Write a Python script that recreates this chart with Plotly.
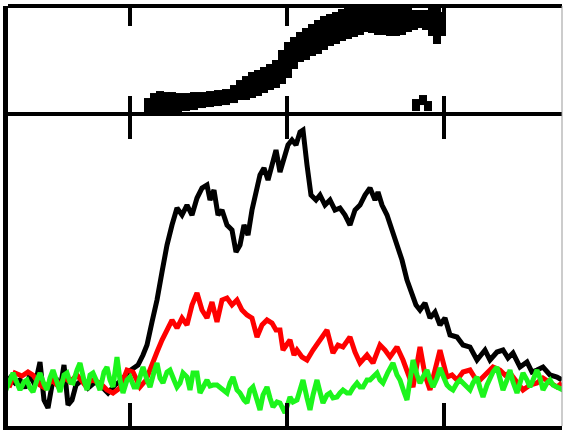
import plotly.graph_objects as go

# ---- bottom panel: three traces ----
black_x = [5,10,15,20,25,30,35,40,44,48,52,56,60,64,68,72,76,82,88,95,102,108,115,122,128,133,138,143,147,152,157,162,167,172,177,182,187,192,197,202,207,210,214,218,222,227,232,236,240,244,248,252,256,260,264,268,272,276,280,284,288,292,296,300,303,307,311,316,320,325,330,335,340,345,350,355,360,365,370,375,378,382,387,392,397,402,407,412,416,420,425,430,435,440,445,450,457,463,470,477,485,490,497,503,508,513,520,527,532,537,543,550,557,562]
black_y = [43,50,45,48,40,53,43,66,28,20,43,50,38,63,23,28,43,48,40,46,41,35,43,48,56,60,63,73,83,106,128,156,183,203,220,213,223,213,230,240,243,228,238,213,218,203,198,176,183,203,193,218,238,253,260,248,263,278,256,268,283,288,283,296,298,263,233,228,233,223,228,218,220,213,203,218,223,233,240,228,236,223,213,198,183,168,148,133,123,118,125,110,116,103,110,93,91,83,81,68,78,68,76,78,70,75,61,66,56,58,61,53,51,48]

red_x = [5,10,15,22,28,33,40,45,52,58,65,70,77,85,92,100,107,113,120,127,133,140,146,152,157,162,167,172,177,182,187,192,197,202,207,212,217,222,227,232,237,242,247,252,257,262,267,272,276,280,283,287,290,294,297,302,307,313,320,327,333,338,343,350,355,360,367,373,380,385,390,397,403,408,413,420,425,430,435,440,447,452,457,463,470,475,480,487,493,500,505,510,517,523,530,537,543,550,557,562]
red_y = [45,43,55,52,56,53,43,40,48,42,50,46,53,43,48,45,38,35,40,58,56,41,48,65,76,88,98,108,100,110,103,123,135,118,110,126,106,128,130,123,128,118,113,110,91,103,108,105,98,98,78,83,88,73,78,71,68,78,88,98,75,83,81,91,76,65,73,65,83,78,71,81,68,53,41,81,53,38,58,78,51,53,48,56,58,50,48,56,61,58,53,55,46,38,43,45,50,45,41,45]

green_x = [3,8,13,17,20,24,27,30,33,37,40,44,47,50,53,57,60,64,67,70,73,77,80,84,87,90,93,97,100,104,107,110,113,117,120,123,127,130,134,137,140,143,147,150,154,157,160,163,167,170,174,177,180,183,187,190,193,197,200,204,207,210,213,217,220,224,227,230,233,237,240,244,247,250,253,257,260,263,267,270,273,277,280,285,290,293,297,300,303,307,310,313,317,320,323,327,330,333,337,340,343,347,350,353,357,360,363,367,370,373,377,380,383,388,393,397,400,404,407,410,413,417,420,423,427,430,433,437,440,444,447,450,453,457,460,465,470,473,477,480,483,487,490,493,497,500,503,507,510,513,517,520,523,527,530,533,537,540,543,547,550,553,557,560,563]
green_y = [31,43,55,45,38,46,48,40,36,48,55,44,38,50,58,46,36,53,55,46,45,58,65,48,38,53,55,46,38,56,61,48,41,71,48,35,48,51,41,41,53,61,48,41,56,65,50,45,56,58,48,41,45,55,51,38,55,55,35,43,48,42,43,43,41,38,35,45,51,38,35,28,25,38,41,28,18,33,41,30,21,26,25,15,31,26,28,38,48,30,18,33,48,36,25,33,35,30,31,35,38,35,35,40,45,41,41,48,48,51,55,48,45,56,65,53,48,36,28,48,68,53,45,51,58,48,41,50,60,50,43,40,38,45,48,43,38,45,51,40,31,43,51,56,61,48,38,48,58,46,35,45,55,48,41,48,58,50,38,45,48,43,41,40,38]

# ---- top panel: points with vertical error bars ----
top_x = [148,154,160,166,172,178,186,194,202,210,218,226,234,240,246,252,258,264,270,276,282,288,294,300,306,312,318,324,330,336,342,348,354,360,366,372,378,384,390,396,402,408,414,420,426,432,437,442,416,423,428]
top_y = [6,9,10,10,11,11,12,13,14,15,16,17,20,24,26,29,31,34,37,40,47,54,61,67,70,74,77,81,84,86,89,91,92,94,96,95,94,94,93,93,93,94,94,95,94,92,88,90,9,14,8]
top_err = [10,12,13,12,11,10,9,9,8,8,8,8,9,10,12,13,13,13,13,14,17,18,16,15,16,16,17,17,16,16,16,16,15,15,14,14,15,15,15,15,14,12,10,9,10,14,18,12,6,5,5]

tick_vals = [130, 287, 444]

fig = go.Figure()
fig.add_trace(go.Scatter(x=black_x, y=black_y, mode="lines",
                         line=dict(color="black", width=5), xaxis="x", yaxis="y"))
fig.add_trace(go.Scatter(x=red_x, y=red_y, mode="lines",
                         line=dict(color="#ff0000", width=5), xaxis="x", yaxis="y"))
fig.add_trace(go.Scatter(x=green_x, y=green_y, mode="lines",
                         line=dict(color="#1cf51c", width=5), xaxis="x", yaxis="y"))
fig.add_trace(go.Scatter(x=top_x, y=top_y, mode="markers",
                         marker=dict(symbol="square", size=8, color="black"),
                         error_y=dict(type="data", array=top_err, visible=True,
                                      color="black", thickness=8, width=0),
                         xaxis="x2", yaxis="y2"))

xcommon = dict(range=[8, 562], linecolor="black",
               ticks="inside", tickwidth=4, tickcolor="black",
               tickvals=tick_vals, showticklabels=False, showgrid=False, zeroline=False)
ycommon = dict(showline=True, linewidth=5, linecolor="black", ticks="",
               showticklabels=False, showgrid=False, zeroline=False)

split = 0.738

fig.update_layout(
    width=566, height=430,
    margin=dict(l=8, r=4, t=6, b=4),
    paper_bgcolor="white", plot_bgcolor="white",
    showlegend=False,
    xaxis=dict(anchor="y", domain=[0, 1], ticklen=23, showline=True, linewidth=4,
               mirror="ticks", **xcommon),
    yaxis=dict(anchor="x", domain=[0, split], range=[2, 312], **ycommon),
    xaxis2=dict(anchor="y2", domain=[0, 1], ticklen=20, showline=False,
                mirror="ticks", **xcommon),
    yaxis2=dict(anchor="x2", domain=[split, 1], range=[-2, 108], **ycommon),
    shapes=[
        dict(type="line", xref="paper", yref="paper", x0=0, x1=1, y0=1, y1=1,
             line=dict(color="black", width=4)),
        dict(type="line", xref="paper", yref="paper", x0=1, x1=1, y0=0, y1=1,
             line=dict(color="#999999", width=1)),
    ],
)

fig.write_html("out.html")
